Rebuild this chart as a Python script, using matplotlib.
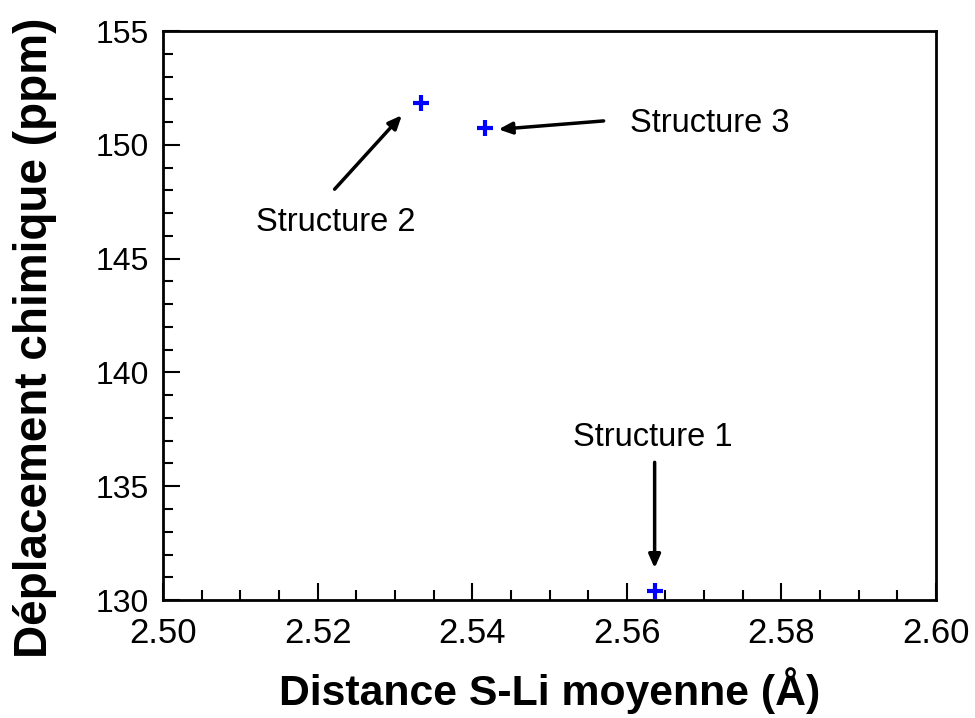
import matplotlib
matplotlib.use("Agg")
import matplotlib.pyplot as plt
from matplotlib.ticker import MultipleLocator, FormatStrFormatter

plt.rcParams['font.family'] = ['Liberation Sans', 'DejaVu Sans']

distance = [2.5334, 2.5416, 2.5636]
shift = [151.85, 150.72, 130.38]
labels = ["Structure 2", "Structure 3", "Structure 1"]
# text positions (data coords) and arrow tail / head positions
text_xy = [(2.5223, 146.6), (2.5707, 150.95), (2.5634, 137.15)]
tail_xy = [(2.5222, 148.05), (2.5570, 151.05), (2.5636, 136.05)]
head_xy = [(2.5309, 151.3), (2.5434, 150.68), (2.5636, 131.4)]

fig = plt.figure(figsize=(9.75, 7.18), dpi=100)
ax = fig.add_axes([0.1672, 0.1643, 0.7928, 0.7925])

ax.plot(distance, shift, linestyle='none', marker='+', color='#0000ff',
        markersize=12, markeredgewidth=3)

for lab, t, tail, head in zip(labels, text_xy, tail_xy, head_xy):
    ax.text(t[0], t[1], lab, fontsize=23.5, ha='center', va='center')
    ax.annotate('', xy=head, xytext=tail,
                arrowprops=dict(arrowstyle='-|>,head_length=0.8,head_width=0.35',
                                color='black', lw=2.5, shrinkA=0, shrinkB=0))

ax.set_xlim(2.50, 2.60)
ax.set_ylim(130, 155)
ax.xaxis.set_major_locator(MultipleLocator(0.02))
ax.xaxis.set_minor_locator(MultipleLocator(0.005))
ax.yaxis.set_major_locator(MultipleLocator(5))
ax.yaxis.set_minor_locator(MultipleLocator(1))
ax.xaxis.set_major_formatter(FormatStrFormatter('%.2f'))

ax.tick_params(which='both', direction='in', top=False, right=False, width=1.5)
ax.tick_params(which='major', length=12)
ax.tick_params(which='minor', length=7)
ax.tick_params(axis='x', which='major', labelsize=25, pad=12)
ax.tick_params(axis='y', which='major', labelsize=23, pad=10)
for s in ax.spines.values():
    s.set_linewidth(2)

ax.set_xlabel("Distance S-Li moyenne (Å)", fontsize=30.8, fontweight='bold')
ax.set_ylabel("Déplacement chimique (ppm)", fontsize=33, fontweight='bold')
ax.xaxis.set_label_coords(0.5, -0.118)
ax.yaxis.set_label_coords(-0.137, 0.46)

fig.savefig("out.png", dpi=100)
